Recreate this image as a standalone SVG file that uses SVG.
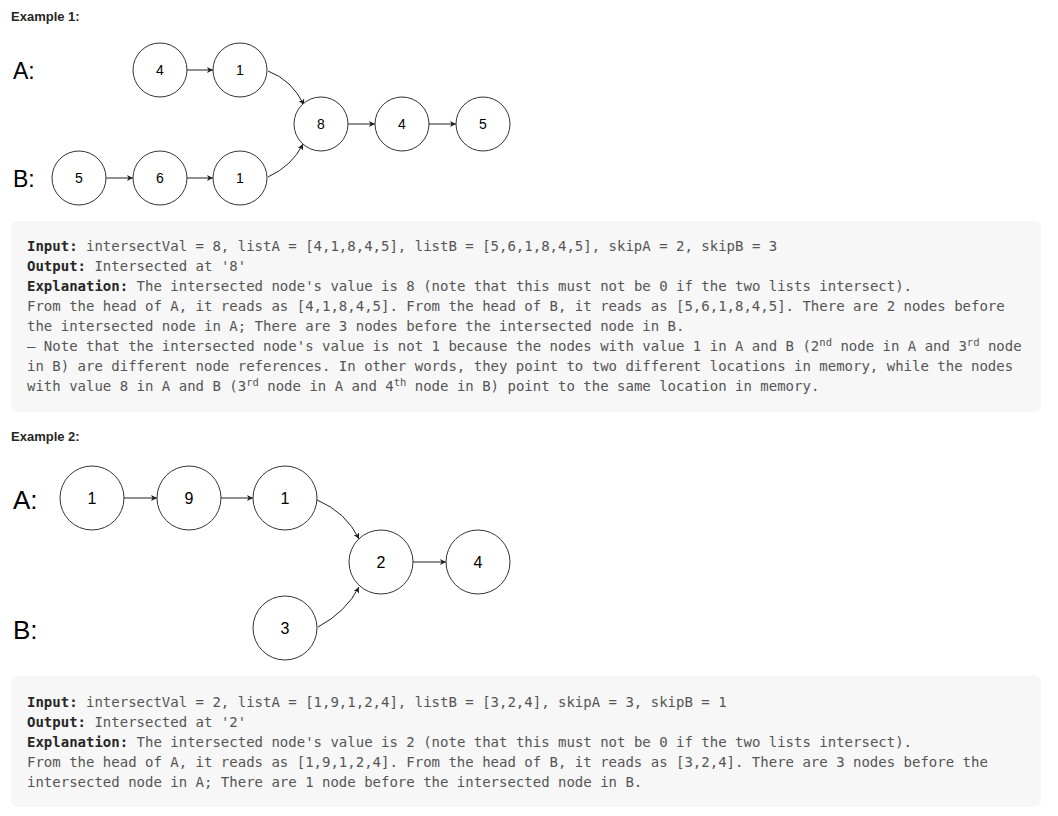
<svg xmlns="http://www.w3.org/2000/svg" width="1058" height="816" viewBox="0 0 1058 816">
<style>
.hd{font-family:"Liberation Sans","Noto Sans",sans-serif;font-size:13px;font-weight:bold;fill:#262626}
.lbl1{font-family:"Liberation Sans",Arial,sans-serif;font-size:23px;fill:#000}
.lbl2{font-family:"Liberation Sans",Arial,sans-serif;font-size:26px;fill:#000}
.nd circle{fill:#fff;stroke:#333;stroke-width:1}
.n1{font-family:"Liberation Sans",Arial,sans-serif;font-size:14px;fill:#000;text-anchor:middle}
.n2{font-family:"Liberation Sans",Arial,sans-serif;font-size:16px;fill:#000;text-anchor:middle}
.con path,.con line{fill:none;stroke:#222;stroke-width:1;marker-end:url(#ah)}
.box{fill:#f7f7f7}
.code{font-family:"DejaVu Sans Mono","Liberation Mono",monospace;font-size:14px;fill:#555}
.code .b{font-weight:bold;fill:#262626}
.code .sup{font-size:10.5px}
</style>
<defs>
<marker id="ah" markerUnits="userSpaceOnUse" markerWidth="8" markerHeight="8" refX="6" refY="3" orient="auto">
<path d="M0,0 L6,3 L0,6 L1.5,3 z" fill="#222"/>
</marker>
</defs>

<text class="hd" x="11" y="21">Example 1:</text>
<text class="lbl1" x="13" y="79">A:</text>
<text class="lbl1" x="13" y="187">B:</text>

<g class="con" id="connectors1">
<line x1="187" y1="70" x2="213" y2="70"/>
<line x1="106" y1="178" x2="133" y2="178"/>
<line x1="187" y1="178" x2="213" y2="178"/>
<line x1="348" y1="124" x2="375" y2="124"/>
<line x1="429" y1="124" x2="456" y2="124"/>
<path d="M268,71 Q292,80 304,105"/>
<path d="M268,177 Q292,166 303,144"/>
</g>

<g class="nd" id="a1-4"><circle cx="160" cy="70" r="27"/><text class="n1" x="160" y="75">4</text></g>
<g class="nd" id="a1-1"><circle cx="240" cy="70" r="27"/><text class="n1" x="240" y="75">1</text></g>
<g class="nd" id="c1-8"><circle cx="321" cy="124" r="27"/><text class="n1" x="321" y="129">8</text></g>
<g class="nd" id="c1-4"><circle cx="402" cy="124" r="27"/><text class="n1" x="402" y="129">4</text></g>
<g class="nd" id="c1-5"><circle cx="483" cy="124" r="27"/><text class="n1" x="483" y="129">5</text></g>
<g class="nd" id="b1-5"><circle cx="79" cy="178" r="27"/><text class="n1" x="79" y="183">5</text></g>
<g class="nd" id="b1-6"><circle cx="160" cy="178" r="27"/><text class="n1" x="160" y="183">6</text></g>
<g class="nd" id="b1-1"><circle cx="240" cy="178" r="27"/><text class="n1" x="240" y="183">1</text></g>

<g id="box1">
<rect class="box" x="11" y="221" width="1030" height="191" rx="6"/>
<text class="code" x="27" y="251"><tspan class="b">Input:</tspan> intersectVal = 8, listA = [4,1,8,4,5], listB = [5,6,1,8,4,5], skipA = 2, skipB = 3</text>
<text class="code" x="27" y="271"><tspan class="b">Output:</tspan> Intersected at '8'</text>
<text class="code" x="27" y="291"><tspan class="b">Explanation:</tspan> The intersected node's value is 8 (note that this must not be 0 if the two lists intersect).</text>
<text class="code" x="27" y="311">From the head of A, it reads as [4,1,8,4,5]. From the head of B, it reads as [5,6,1,8,4,5]. There are 2 nodes before</text>
<text class="code" x="27" y="331">the intersected node in A; There are 3 nodes before the intersected node in B.</text>
<text class="code" x="27" y="351">– Note that the intersected node's value is not 1 because the nodes with value 1 in A and B (2<tspan class="sup" dy="-5">nd</tspan><tspan dy="5"> node in A and 3</tspan><tspan class="sup" dy="-5">rd</tspan><tspan dy="5"> node</tspan></text>
<text class="code" x="27" y="371">in B) are different node references. In other words, they point to two different locations in memory, while the nodes</text>
<text class="code" x="27" y="391">with value 8 in A and B (3<tspan class="sup" dy="-5">rd</tspan><tspan dy="5"> node in A and 4</tspan><tspan class="sup" dy="-5">th</tspan><tspan dy="5"> node in B) point to the same location in memory.</tspan></text>
</g>

<text class="hd" x="11" y="441">Example 2:</text>
<text class="lbl2" x="13" y="509">A:</text>
<text class="lbl2" x="13" y="639">B:</text>

<g class="con" id="connectors2">
<line x1="124" y1="498" x2="157" y2="498"/>
<line x1="221" y1="498" x2="253" y2="498"/>
<line x1="413" y1="562" x2="446" y2="562"/>
<path d="M317,500 Q346,512 359,539"/>
<path d="M318,627 Q346,612 359,587"/>
</g>

<g class="nd" id="a2-1"><circle cx="92" cy="498" r="32"/><text class="n2" x="92" y="504">1</text></g>
<g class="nd" id="a2-9"><circle cx="189" cy="498" r="32"/><text class="n2" x="189" y="504">9</text></g>
<g class="nd" id="a2-1b"><circle cx="285" cy="498" r="32"/><text class="n2" x="285" y="504">1</text></g>
<g class="nd" id="c2-2"><circle cx="381" cy="562" r="32"/><text class="n2" x="381" y="568">2</text></g>
<g class="nd" id="c2-4"><circle cx="478" cy="562" r="32"/><text class="n2" x="478" y="568">4</text></g>
<g class="nd" id="b2-3"><circle cx="285" cy="628" r="32"/><text class="n2" x="285" y="634">3</text></g>

<g id="box2">
<rect class="box" x="11" y="676" width="1030" height="131" rx="6"/>
<text class="code" x="27" y="707"><tspan class="b">Input:</tspan> intersectVal = 2, listA = [1,9,1,2,4], listB = [3,2,4], skipA = 3, skipB = 1</text>
<text class="code" x="27" y="727"><tspan class="b">Output:</tspan> Intersected at '2'</text>
<text class="code" x="27" y="747"><tspan class="b">Explanation:</tspan> The intersected node's value is 2 (note that this must not be 0 if the two lists intersect).</text>
<text class="code" x="27" y="767">From the head of A, it reads as [1,9,1,2,4]. From the head of B, it reads as [3,2,4]. There are 3 nodes before the</text>
<text class="code" x="27" y="787">intersected node in A; There are 1 node before the intersected node in B.</text>
</g>
</svg>
